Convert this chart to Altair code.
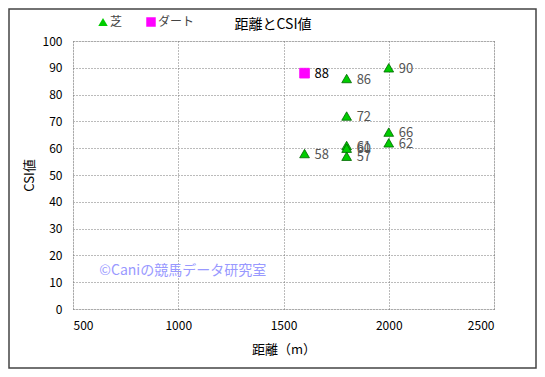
import altair as alt
import pandas as pd

# data
surface = ["芝", "芝", "芝", "芝", "芝", "芝", "芝", "芝", "芝", "ダート"]
distance = [1600, 1800, 1800, 1800, 1800, 1800, 2000, 2000, 2000, 1600]
csi = [58, 86, 72, 61, 60, 57, 90, 66, 62, 88]
labels = [str(v) for v in csi]

series_names = ["芝", "ダート"]
series_colors = ["#00CC00", "#FF00FF"]
series_strokes = ["#006600", "#FF00FF"]
series_shapes = ["triangle-up", "square"]
series_label_colors = ["#555555", "#000000"]

x_ticks = [500, 1000, 1500, 2000, 2500]
y_ticks = list(range(0, 101, 10))

title_text = ["距離とCSI値"]
watermark_text = ["©Caniの競馬データ研究室"]
watermark_x = [625]
watermark_y = [14]

df = pd.DataFrame({"馬場": surface, "距離": distance, "CSI": csi, "label": labels})
df["labelColor"] = [series_label_colors[series_names.index(s)] for s in surface]
wm = pd.DataFrame({"t": watermark_text, "x": watermark_x, "y": watermark_y})
tdf = pd.DataFrame({"t": title_text})

FONT = "Noto Sans CJK JP"
W, H = 421, 268
PL, PT, PR, PB = 65, 33, 43, 60

xs = alt.Scale(domain=[500, 2500], nice=False, zero=False)
ys = alt.Scale(domain=[0, 100], nice=False)

xaxis = alt.Axis(title="距離（m）", values=x_ticks, format="d", labelOverlap=False,
                 grid=True, gridDash=[1, 2], gridColor="#777777",
                 domain=False, ticks=False, labelPadding=11,
                 titlePadding=12, labelFontSize=12, titleFontSize=13,
                 labelColor="#000", titleColor="#000", titleFontWeight="normal",
                 labelFont=FONT, titleFont=FONT)
yaxis = alt.Axis(title="CSI値", values=y_ticks, format="d", labelOverlap=False,
                 grid=True, gridDash=[1, 2], gridColor="#777777",
                 domain=False, ticks=False, labelPadding=11,
                 titlePadding=6, labelFontSize=12, titleFontSize=13,
                 labelColor="#000", titleColor="#000", titleFontWeight="normal",
                 labelFont=FONT, titleFont=FONT)

points = alt.Chart(df).mark_point(filled=True, size=95, strokeWidth=0.8, opacity=1).encode(
    x=alt.X("距離:Q", scale=xs, axis=xaxis), y=alt.Y("CSI:Q", scale=ys, axis=yaxis),
    color=alt.Color("馬場:N", scale=alt.Scale(domain=series_names, range=series_colors),
                    legend=alt.Legend(title=None, orient="none", legendX=24, legendY=-25,
                                      direction="horizontal", labelFont=FONT, labelFontSize=12,
                                      labelColor="#444", symbolSize=90, columnPadding=22,
                                      labelOffset=1, symbolStrokeWidth=0)),
    stroke=alt.Stroke("馬場:N", scale=alt.Scale(domain=series_names, range=series_strokes), legend=None),
    shape=alt.Shape("馬場:N", scale=alt.Scale(domain=series_names, range=series_shapes), legend=None),
)

text = alt.Chart(df).mark_text(align="left", dx=10, dy=1, fontSize=13, font=FONT).encode(
    x=alt.X("距離:Q", scale=xs, axis=xaxis), y=alt.Y("CSI:Q", scale=ys, axis=yaxis),
    text="label:N", color=alt.Color("labelColor:N", scale=None),
)

watermark = alt.Chart(wm).mark_text(align="left", fontSize=14, font=FONT, color="#9999FF").encode(
    x=alt.X("x:Q", scale=xs, axis=xaxis), y=alt.Y("y:Q", scale=ys, axis=yaxis), text="t:N"
)

title = alt.Chart(tdf).mark_text(align="center", baseline="middle", fontSize=14, font=FONT, color="#000").encode(
    x=alt.value(200), y=alt.value(-16), text="t:N"
)

frame_df = pd.DataFrame({"a": [0]})
frame = alt.Chart(frame_df).mark_rect(fill=None, stroke="#444444", strokeWidth=1.5, clip=False).encode(
    x=alt.value(-PL + 1), x2=alt.value(W + PR - 1), y=alt.value(-PT + 1), y2=alt.value(H + PB - 1)
)

chart = alt.layer(frame, points, text, watermark, title).properties(
    width=W, height=H,
    padding={"left": PL, "top": PT, "right": PR, "bottom": PB},
    autosize=alt.AutoSizeParams(type="none"),
).configure_view(stroke="#666666", strokeWidth=1.2).configure(background="white")

chart.save("out.html", embed_options={"renderer": "svg", "actions": False})
